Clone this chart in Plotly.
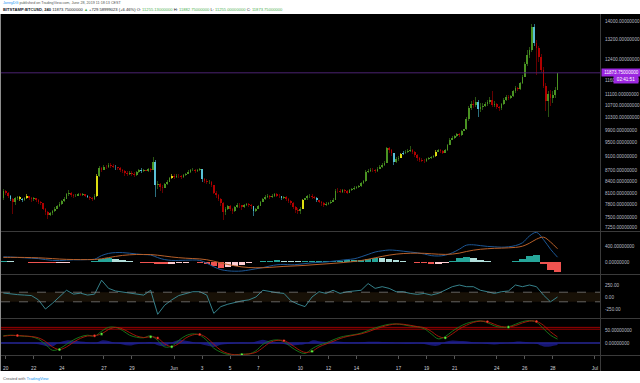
import math
import pandas as pd
import plotly.graph_objects as go

W, H = 640, 383

# ---------------- price data: BITSTAMP:BTCUSD, 4h candles ----------------
first_open = 7960.0
close = [
    8150,                                        # May19 20:00
    8100, 8020, 7950, 7880, 7960, 7990,          # May20
    7950, 7920, 7980, 8010, 7970, 7940,          # May21
    7960, 7910, 7880, 7840, 7700, 7620,          # May22
    7560, 7590, 7640, 7700, 7760, 7830,          # May23
    7890, 7950, 8060, 8100, 8040, 8010,          # May24
    8030, 8070, 8050, 8060, 8020, 8000,          # May25
    7970, 7950, 8020, 8560, 8760, 8720,          # May26
    8800, 8790, 8850, 8830, 8810, 8790,          # May27
    8760, 8720, 8690, 8640, 8600, 8640,          # May28
    8610, 8580, 8650, 8700, 8690, 8700,          # May29
    8690, 8730, 8710, 8950, 8300, 8330,          # May30
    8260, 8240, 8330, 8400, 8500, 8560,          # May31
    8520, 8560, 8540, 8530, 8570, 8600,          # Jun01
    8650, 8700, 8720, 8680, 8700, 8730,          # Jun02
    8460, 8420, 8380, 8400, 8300, 8100,          # Jun03
    8050, 7950, 7850, 7620, 7700, 7760,          # Jun04
    7700, 7650, 7740, 7800, 7790, 7750,          # Jun05
    7790, 7810, 7790, 7760, 7640, 7700,          # Jun06
    7780, 7870, 7950, 7990, 8010, 7990,          # Jun07
    8030, 8060, 8030, 8010, 7970, 7990,          # Jun08
    7950, 7900, 7840, 7740, 7680, 7650,          # Jun09
    7700, 7920, 7960, 8010, 8030, 8000,          # Jun10
    7980, 7910, 7880, 7840, 7800, 7820,          # Jun11
    7850, 7880, 7930, 8160, 8150, 8130,          # Jun12
    8170, 8140, 8110, 8170, 8200, 8230,          # Jun13
    8260, 8280, 8360, 8420, 8650, 8690,          # Jun14
    8720, 8700, 8680, 8750, 8810, 8860,          # Jun15
    8920, 9340, 9290, 9200, 8930, 9010,          # Jun16
    9060, 9160, 9210, 9240, 9250, 9300,          # Jun17
    9230, 9140, 9050, 9000, 8980, 8960,          # Jun18
    9010, 9050, 9080, 9100, 9240, 9290,          # Jun19
    9250, 9210, 9290, 9450, 9600, 9660,          # Jun20
    9700, 9760, 9730, 9860, 9920, 10250,         # Jun21
    10620, 10760, 10720, 10820, 10580, 10650,    # Jun22
    10700, 10760, 10810, 10900, 10720, 10760,    # Jun23
    10660, 10600, 10750, 10900, 11000, 10960,    # Jun24
    11020, 11200, 11320, 11260, 11500, 11720,    # Jun25
    12200, 12560, 12780, 13750, 13050, 12850,    # Jun26
    12500, 12000, 11400, 10850, 11100, 10950,    # Jun27
    11050, 11255.13, 11873.75,                   # Jun28
]
high = [
    8200,
    8180, 8120, 8040, 7980, 8000, 8030,
    8010, 7980, 8000, 8060, 8020, 7990,
    7990, 7970, 7940, 7900, 7850, 7720,
    7650, 7620, 7680, 7740, 7800, 7860,
    7920, 7990, 8100, 8170, 8120, 8060,
    8070, 8100, 8090, 8090, 8080, 8050,
    8020, 8000, 8060, 8600, 8820, 8800,
    8850, 8860, 8900, 8920, 8880, 8850,
    8810, 8790, 8740, 8710, 8680, 8690,
    8680, 8650, 8690, 8740, 8760, 8740,
    8740, 8760, 8770, 9080, 8990, 8420,
    8350, 8310, 8360, 8440, 8530, 8600,
    8600, 8600, 8590, 8570, 8600, 8640,
    8700, 8740, 8780, 8740, 8740, 8780,
    8740, 8500, 8460, 8450, 8420, 8320,
    8140, 8080, 7980, 7880, 7740, 7800,
    7790, 7730, 7780, 7840, 7840, 7800,
    7820, 7850, 7840, 7810, 7780, 7730,
    7800, 7900, 7980, 8040, 8060, 8040,
    8070, 8110, 8090, 8060, 8030, 8030,
    8020, 7980, 7930, 7870, 7770, 7720,
    7740, 7950, 8000, 8050, 8070, 8060,
    8030, 7990, 7930, 7900, 7860, 7860,
    7880, 7920, 7970, 8200, 8220, 8190,
    8210, 8200, 8170, 8200, 8240, 8270,
    8290, 8300, 8390, 8450, 8700, 8740,
    8760, 8780, 8740, 8790, 8840, 8900,
    8960, 9380, 9380, 9320, 9210, 9080,
    9110, 9190, 9250, 9290, 9320, 9420,
    9320, 9260, 9160, 9080, 9050, 9020,
    9040, 9090, 9110, 9140, 9280, 9320,
    9320, 9280, 9320, 9480, 9640, 9700,
    9740, 9800, 9790, 9890, 9960, 10300,
    10700, 10850, 10900, 11000, 10900, 10800,
    10780, 10830, 10880, 10990, 11200, 10850,
    10800, 10700, 10790, 10950, 11050, 11060,
    11070, 11250, 11380, 11350, 11540, 11780,
    12300, 12750, 12900, 13880, 13850, 13200,
    12950, 12600, 12100, 11500, 11200, 11250,
    11200, 11350, 11882.75,
]
low = [
    7930,
    8050, 7980, 7900, 7580, 7800, 7920,
    7900, 7870, 7900, 7950, 7930, 7880,
    7900, 7880, 7830, 7800, 7680, 7560,
    7460, 7520, 7560, 7620, 7690, 7740,
    7800, 7860, 7940, 8030, 8000, 7960,
    7990, 8010, 8020, 8020, 7990, 7960,
    7920, 7900, 7930, 8000, 8520, 8660,
    8700, 8730, 8770, 8780, 8760, 8720,
    8700, 8660, 8620, 8560, 8540, 8580,
    8560, 8520, 8560, 8630, 8640, 8650,
    8640, 8660, 8670, 8700, 8000, 8200,
    8150, 8100, 8220, 8300, 8380, 8460,
    8480, 8500, 8500, 8480, 8500, 8550,
    8590, 8640, 8680, 8640, 8650, 8680,
    8400, 8350, 8330, 8340, 8250, 8060,
    7960, 7900, 7780, 7420, 7560, 7660,
    7640, 7580, 7620, 7720, 7730, 7680,
    7720, 7760, 7750, 7700, 7520, 7620,
    7690, 7760, 7860, 7920, 7960, 7950,
    7970, 8000, 7990, 7960, 7930, 7950,
    7900, 7840, 7790, 7700, 7600, 7580,
    7580, 7690, 7900, 7930, 7980, 7950,
    7940, 7880, 7840, 7760, 7750, 7770,
    7790, 7830, 7860, 7920, 8100, 8090,
    8100, 8090, 8060, 8100, 8150, 8170,
    8200, 8230, 8260, 8340, 8400, 8620,
    8660, 8650, 8630, 8670, 8730, 8780,
    8820, 8900, 9200, 9100, 8850, 8900,
    8980, 9040, 9140, 9180, 9190, 9220,
    9180, 9090, 8980, 8940, 8930, 8900,
    8940, 8990, 9020, 9050, 9090, 9220,
    9200, 9160, 9190, 9270, 9430, 9580,
    9630, 9680, 9690, 9720, 9830, 9900,
    10200, 10550, 10600, 10650, 10300, 10480,
    10560, 10640, 10700, 10760, 10650, 10650,
    10580, 10520, 10560, 10720, 10860, 10880,
    10920, 10980, 11150, 11200, 11230, 11450,
    11700, 12150, 12450, 12700, 12950, 11800,
    12300, 11900, 11300, 10500, 10300, 10700,
    10800, 10950, 11255.00,
]
# candles painted yellow / cyan by the bar-colour indicator
yellow_idx = [7, 10, 40, 72, 128, 170, 185]
cyan_idx = [3, 8, 36, 48, 59, 65, 85, 107, 119, 134, 167, 171, 203, 227]

# ---------------- indicators (sampled every 12h) ----------------
macd_line = [130, 125, 115, 105, 95, 85, 60, 40, 35, 45,
             55, 55, 60, 70, 160, 215, 235, 235, 220, 200,
             185, 175, 110, 60, 40, 40, 45, 50, 40, -30,
             -120, -190, -220, -230, -225, -200, -170, -140, -100, -70,
             -60, -70, -60, -40, -20, -10, 0, 20, 40, 60,
             80, 130, 190, 250, 280, 300, 290, 270, 250, 230,
             200, 160, 150, 170, 230, 320, 420, 430, 410, 390,
             380, 370, 380, 410, 480, 650, 740, 560, 320, 120]
macd_signal = [115, 116, 116, 114, 110, 105, 96, 85, 74, 66,
               62, 60, 60, 62, 80, 110, 140, 165, 180, 188,
               188, 186, 170, 148, 126, 108, 95, 86, 77, 56,
               20, -22, -62, -96, -122, -138, -144, -143, -134, -122,
               -110, -102, -94, -84, -71, -59, -47, -34, -20, -4,
               13, 37, 68, 105, 140, 172, 196, 211, 219, 221,
               217, 206, 195, 190, 198, 222, 262, 295, 318, 332,
               342, 347, 354, 365, 395, 470, 570, 620, 500, 330]
macd_hist = [20, 15, 5, -10, -20, -25, -30, -30, -25, -15,
             -5, 0, 5, 15, 70, 95, 80, 50, 25, 5,
             -15, -35, -55, -60, -50, -35, -20, -10, -15, -50,
             -110, -140, -130, -100, -70, -30, 5, 25, 35, 40,
             35, 25, 15, 20, 25, 30, 30, 30, 35, 40,
             45, 60, 80, 100, 95, 75, 45, 15, -10, -25,
             -35, -45, -40, -20, 30, 90, 130, 110, 60, 20,
             0, -10, -5, 20, 70, 160, 180, -60, -200, -240]
cci = [83, 62, 50, 40, 30, -60, -250, -130, 0, 140,
       60, 80, 40, 60, 350, 180, 125, 100, 75, 55,
       40, 140, -360, -170, -60, 30, 75, 110, 110, 40,
       -340, -200, -150, -110, -80, -60, 0, 140, 110, 90,
       75, -80, -150, -200, 0, 110, 75, 140, 75, 110,
       125, 140, 280, 180, 215, 180, 110, 110, 75, 55,
       75, 40, 75, 140, 215, 250, 215, 215, 140, 110,
       75, 110, 125, 250, 215, 250, 215, 40, -100, 0]
wt1 = [28, 30, 28, 26, 24, 15, -5, -28, -22, -5,
       12, 24, 30, 26, 45, 60, 60, 48, 30, 22,
       20, 28, 10, -15, -12, 10, 28, 35, 30, 10,
       -20, -35, -44, -46, -42, -42, -30, -5, 8, 12,
       5, -15, -32, -40, -22, -8, 0, 12, 22, 28,
       32, 38, 48, 58, 66, 72, 73, 70, 65, 62,
       55, 35, 16, 25, 45, 62, 75, 82, 85, 78,
       66, 60, 62, 72, 82, 86, 80, 55, 30, 15]
wt2 = [26, 29, 29, 27, 25, 20, 6, -15, -25, -15,
       3, 18, 27, 28, 35, 52, 60, 54, 40, 27,
       21, 24, 19, -3, -14, -2, 19, 31, 33, 20,
       -5, -28, -40, -45, -44, -42, -36, -18, 2, 10,
       9, -5, -24, -36, -32, -15, -4, 6, 17, 25,
       30, 35, 43, 53, 62, 69, 73, 72, 68, 63,
       59, 45, 26, 20, 35, 54, 68, 79, 84, 82,
       72, 63, 61, 67, 77, 84, 83, 68, 43, 23]
wt_gap = [2, 1, -1, -1, -1, -5, -11, -13, 3, 10,
          9, 6, 3, -2, 10, 8, 0, -6, -10, -5,
          -1, 4, -9, -12, 2, 12, 9, 4, -3, -10,
          -15, -7, -4, -1, 2, 0, 6, 13, 6, 2,
          -4, -10, -8, -4, 10, 7, 4, 6, 5, 3,
          2, 3, 5, 5, 4, 3, 0, -2, -3, -1,
          -4, -10, -10, 5, 10, 8, 7, 3, 1, -4,
          -6, -3, 1, 5, 5, 2, -3, -13, -13, -8]

# ---------------- axis labels ----------------
price_ticks = [14000, 13200, 12400, 11600, 11100, 10700, 10300, 9900,
               9500, 9100, 8700, 8400, 8100, 7800, 7500, 7250]
date_ticks = ["2019-05-20", "2019-05-22", "2019-05-24", "2019-05-27", "2019-05-29",
              "2019-06-01", "2019-06-03", "2019-06-05", "2019-06-07", "2019-06-10",
              "2019-06-12", "2019-06-14", "2019-06-17", "2019-06-19", "2019-06-21",
              "2019-06-24", "2019-06-26", "2019-06-28", "2019-07-01"]
date_labels = ["20", "22", "24", "27", "29", "Jun", "3", "5", "7", "10",
               "12", "14", "17", "19", "21", "24", "26", "28", "Jul"]

# ---------------- build ----------------
FONT = "Liberation Sans, Arial, sans-serif"
candle_t = pd.date_range("2019-05-19 20:00", periods=len(close), freq="4h")
ind_t = pd.date_range("2019-05-19 20:00", periods=len(macd_line), freq="12h")
opn = [first_open] + close[:-1]
FOUR_H = 4 * 3600 * 1000
HALF_D = 12 * 3600 * 1000
x_range = ["2019-05-19 15:57", "2019-07-01 08:40"]


def py(p):
    return 1 - p / H


body_col, wick_col = [], []
for i, (o, c) in enumerate(zip(opn, close)):
    if i in yellow_idx:
        b, w = "#dede10", "#7d7d10"
    elif i in cyan_idx:
        b, w = "#58bfd6", "#2b7080"
    elif c >= o:
        b, w = "#4a9322", "#2a5512"
    else:
        b, w = "#b00000", "#650000"
    body_col.append(b)
    wick_col.append(w)

fig = go.Figure()

# candles: wicks then bodies
fig.add_trace(go.Bar(x=candle_t, y=[h - l for h, l in zip(high, low)], base=low,
                     width=FOUR_H * 0.42, marker=dict(color=wick_col, line=dict(width=0)),
                     hoverinfo="skip", xaxis="x", yaxis="y"))
fig.add_trace(go.Bar(x=candle_t, y=[max(abs(c - o), 4) for o, c in zip(opn, close)],
                     base=[min(o, c) for o, c in zip(opn, close)],
                     width=FOUR_H * 0.74, marker=dict(color=body_col, line=dict(width=0)),
                     hoverinfo="skip", xaxis="x", yaxis="y"))
# last price line
fig.add_trace(go.Scatter(x=x_range, y=[close[-1], close[-1]], mode="lines",
                         line=dict(color="#4b2270", width=1), hoverinfo="skip",
                         xaxis="x", yaxis="y"))

# MACD
hist_col = []
prev = 0
for v in macd_hist:
    if v >= 0:
        hist_col.append("#26a69a" if v >= prev else "#b2dfdb")
    else:
        hist_col.append("#ef5350" if v <= prev else "#ffcdd2")
    prev = v
fig.add_trace(go.Bar(x=ind_t, y=macd_hist, width=HALF_D * 0.92,
                     marker=dict(color=hist_col, line=dict(width=0)),
                     hoverinfo="skip", xaxis="x", yaxis="y2"))
fig.add_trace(go.Scatter(x=ind_t, y=macd_line, mode="lines",
                         line=dict(color="#1c5796", width=1, shape="spline"),
                         hoverinfo="skip", xaxis="x", yaxis="y2"))
fig.add_trace(go.Scatter(x=ind_t, y=macd_signal, mode="lines",
                         line=dict(color="#b8602a", width=1, shape="spline"),
                         hoverinfo="skip", xaxis="x", yaxis="y2"))

# CCI
fig.add_trace(go.Scatter(x=ind_t, y=cci, mode="lines",
                         line=dict(color="#3b8f9a", width=0.9),
                         hoverinfo="skip", xaxis="x", yaxis="y3"))

# WaveTrend
fig.add_trace(go.Scatter(x=ind_t, y=wt_gap, mode="lines", fill="tozeroy",
                         fillcolor="rgba(30,30,150,0.75)", line=dict(width=0, shape="spline"),
                         hoverinfo="skip", xaxis="x", yaxis="y4"))
fig.add_trace(go.Scatter(x=ind_t, y=wt1, mode="lines",
                         line=dict(color="#1a7a1a", width=0.9, shape="spline"),
                         hoverinfo="skip", xaxis="x", yaxis="y4"))
fig.add_trace(go.Scatter(x=ind_t, y=wt2, mode="lines",
                         line=dict(color="#b01a0a", width=0.9, shape="spline"),
                         hoverinfo="skip", xaxis="x", yaxis="y4"))
dot_x, dot_y, dot_c = [], [], []
for k in range(1, len(wt1)):
    if (wt1[k] - wt2[k]) * (wt1[k - 1] - wt2[k - 1]) < 0:
        dot_x.append(ind_t[k])
        dot_y.append(wt2[k])
        dot_c.append("#5cf03c" if wt1[k] > wt2[k] else "#ff3a2a")
fig.add_trace(go.Scatter(x=dot_x, y=dot_y, mode="markers",
                         marker=dict(size=3, color=dot_c, line=dict(width=0.5, color="black")),
                         hoverinfo="skip", xaxis="x", yaxis="y4"))

axis_font = dict(family=FONT, size=4.6, color="#b8bcc6")
common_y = dict(anchor="x", side="right", showgrid=False, zeroline=False, showline=False,
                ticks="", tickfont=axis_font, ticklabelstandoff=4, fixedrange=True)

fig.update_layout(
    width=W, height=H, margin=dict(l=0, r=0, t=0, b=0),
    paper_bgcolor="white", plot_bgcolor="black",
    showlegend=False, barmode="overlay", bargap=0,
    xaxis=dict(domain=[1 / W, 600 / W], anchor="y4", type="date", range=x_range,
               tickvals=date_ticks, ticktext=date_labels, tickfont=dict(family=FONT, size=4.8, color="#d0d3da"),
               ticks="outside", ticklen=3, tickcolor="#555555", ticklabelstandoff=5,
               showgrid=False, zeroline=False, showline=False, fixedrange=True),
    yaxis=dict(domain=[py(231), py(14)], type="log",
               range=[math.log10(7175), math.log10(14320)],
               tickvals=price_ticks, ticktext=[f"{v}.00000000" for v in price_ticks], **common_y),
    yaxis2=dict(domain=[py(274), py(231)], range=[-300, 775],
                tickvals=[400, 0], ticktext=["400.00000000", "0.00000000"], **common_y),
    yaxis3=dict(domain=[py(318), py(274)], range=[-437, 479],
                tickvals=[250, 0, -250], ticktext=["250.00", "0.00", "-250.00"], **common_y),
    yaxis4=dict(domain=[py(355), py(318)], range=[-46, 96],
                tickvals=[50, 0], ticktext=["50.00000000", "0.00000000"], **common_y),
)

shapes = [
    # black chart canvas
    dict(type="rect", xref="paper", yref="paper", x0=0, x1=1, y0=py(371), y1=py(14),
         fillcolor="black", line=dict(width=0), layer="below"),
    # CCI band
    dict(type="rect", xref="x domain", yref="y3", x0=0, x1=1, y0=-100, y1=100,
         fillcolor="rgba(70,50,20,0.35)", line=dict(width=0), layer="below"),
    dict(type="line", xref="x domain", yref="y3", x0=0, x1=1, y0=100, y1=100,
         line=dict(color="#8a8a8a", width=0.7, dash="dash")),
    dict(type="line", xref="x domain", yref="y3", x0=0, x1=1, y0=-100, y1=-100,
         line=dict(color="#8a8a8a", width=0.7, dash="dash")),
    # WaveTrend levels
    dict(type="line", xref="x domain", yref="y4", x0=0, x1=1, y0=60, y1=60,
         line=dict(color="#9a0000", width=1), layer="below"),
    dict(type="line", xref="x domain", yref="y4", x0=0, x1=1, y0=53, y1=53,
         line=dict(color="#9a0000", width=1), layer="below"),
    dict(type="line", xref="x domain", yref="y4", x0=0, x1=1, y0=0, y1=0,
         line=dict(color="#3a3ae0", width=1), layer="below"),
]
for ypx in [231.5, 274.5, 318.5, 355.5]:
    shapes.append(dict(type="line", xref="paper", yref="paper", x0=0, x1=1, y0=py(ypx), y1=py(ypx),
                       line=dict(color="#3a3a3a", width=1)))
shapes.append(dict(type="line", xref="paper", yref="paper", x0=600.5 / W, x1=600.5 / W,
                   y0=py(371), y1=py(14), line=dict(color="#3a3a3a", width=1)))
shapes.append(dict(type="line", xref="paper", yref="paper", x0=0.5 / W, x1=0.5 / W,
                   y0=py(371), y1=py(14), line=dict(color="#8c8c8c", width=1)))
fig.update_layout(shapes=shapes)

G = "#4caf50"
annotations = [
    dict(xref="paper", yref="paper", x=1 / W, y=py(3.5), xanchor="left", yanchor="middle",
         showarrow=False, font=dict(family=FONT, size=3.7, color="#555555"),
         text="<span style='color:#2196f3'>JonnyDG</span> published on TradingView.com, June 28, 2019 11:18:13 CEST"),
    dict(xref="paper", yref="paper", x=1 / W, y=py(9.6), xanchor="left", yanchor="middle",
         showarrow=False, font=dict(family=FONT, size=4.1, color="#131722"),
         text=(f"<b>BITSTAMP:BTCUSD, 240</b> 11873.75000000 <span style='color:{G}'>▲</span> +729.58999023 (+6.46%) "
               f"O: <span style='color:{G}'>11255.13000000</span> H: <span style='color:{G}'>11882.75000000</span> "
               f"L: <span style='color:{G}'>11255.00000000</span> C: <span style='color:{G}'>11873.75000000</span>")),
    dict(xref="paper", yref="y", x=601 / W, y=math.log10(close[-1]), xanchor="left", yanchor="middle",
         showarrow=False, bgcolor="#9c27e0", borderpad=1, width=37,
         font=dict(family=FONT, size=4.6, color="white"), text=f"{close[-1]:.8f}"),
    dict(xref="paper", yref="paper", x=613 / W, y=py(79.5), xanchor="left", yanchor="middle",
         showarrow=False, bgcolor="#9c27e0", borderpad=1, width=22,
         font=dict(family=FONT, size=4.6, color="white"), text="02:41:51"),
    dict(xref="paper", yref="paper", x=1 / W, y=py(378), xanchor="left", yanchor="middle",
         showarrow=False, font=dict(family=FONT, size=4, color="#555555"),
         text="Created with <span style='color:#2196f3'>TradingView</span>"),
]
fig.update_layout(annotations=annotations)

fig.write_html("out.html", config={"displayModeBar": False, "staticPlot": True},
               post_script="document.body.style.margin='0';document.body.style.overflow='hidden';")
